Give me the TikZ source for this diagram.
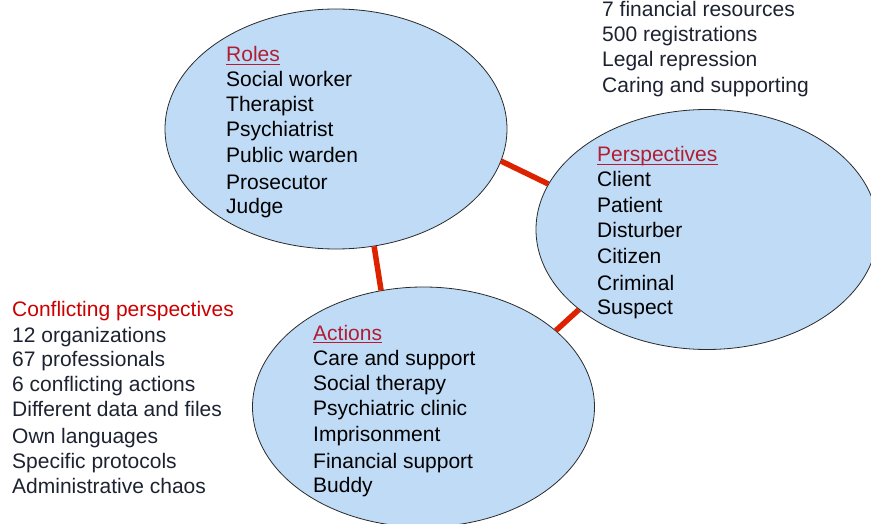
\documentclass[tikz,border=0pt]{standalone}
\usepackage{fontspec}
\setmainfont{Liberation Sans}
\usetikzlibrary{shapes.geometric}
\definecolor{ellfill}{HTML}{BFDBF6}
\definecolor{ellline}{HTML}{2A2A2A}
\definecolor{conncol}{HTML}{DD2200}
\definecolor{headcol}{HTML}{B01E34}
\definecolor{redtxt}{HTML}{CC0000}
\definecolor{navytxt}{HTML}{1C2230}
\tikzset{
  bubble/.style={ellipse, draw=ellline, line width=0.8pt, fill=ellfill,
    minimum width=342pt, minimum height=240pt, inner sep=0pt},
  conn/.style={draw=conncol, line width=5.5pt},
  item/.style={anchor=base west, inner sep=0pt, font=\fontsize{21}{25}\selectfont, text=black},
  outer/.style={item, text=navytxt},
  head/.style={item, text=headcol},
  uline/.style={draw=headcol, line width=1.5pt}
}
\begin{document}
\begin{tikzpicture}[x=1pt,y=-1pt]
\useasboundingbox (0,0) rectangle (871,524);
\clip (0,0) rectangle (871,524);
% ellipses
\node[bubble] (roles) at (336,129) {};
\node[bubble] (persp) at (707,229.5) {};
\node[bubble] (actions) at (423.5,407) {};
% connectors
\draw[conn] (roles.-11) -- (persp.164);
\draw[conn] (roles.-72) -- (actions.110);
\draw[conn] (persp.212) -- (actions.30);
% roles
\node[head] (rolesh) at (226,62) {Roles};
\draw[uline] ([yshift=-2.5pt]rolesh.base west) -- ([yshift=-2.5pt]rolesh.base east);
\foreach \t/\d [count=\i] in {Social worker/25, Therapist/50, Psychiatrist/75, Public warden/101, Prosecutor/128, Judge/152}
  \node[item] (r\i) at (226,62+\d) {\t};
% perspectives
\node[head] (persph) at (597,162) {Perspectives};
\draw[uline] ([yshift=-2.5pt]persph.base west) -- ([yshift=-2.5pt]persph.base east);
\foreach \t/\d [count=\i] in {Client/25, Patient/50, Disturber/75, Citizen/101, Criminal/128, Suspect/152}
  \node[item] (p\i) at (597,162+\d) {\t};
% actions
\node[head] (actionsh) at (313,340) {Actions};
\draw[uline] ([yshift=-2.5pt]actionsh.base west) -- ([yshift=-2.5pt]actionsh.base east);
\foreach \t/\d [count=\i] in {Care and support/25, Social therapy/50, Psychiatric clinic/75, Imprisonment/101, Financial support/128, Buddy/152}
  \node[item] (a\i) at (313,340+\d) {\t};
% top right
\foreach \t/\d [count=\i] in {7 financial resources/17, 500 registrations/42, Legal repression/67, Caring and supporting/93}
  \node[outer] (t\i) at (602,\d) {\t};
% left
\node[item, text=redtxt] (confh) at (12,316) {Conflicting perspectives};
\foreach \t/\d [count=\i] in {12 organizations/342, 67 professionals/366, 6 conflicting actions/391, Different data and files/416, Own languages/443, Specific protocols/468, Administrative chaos/493}
  \node[outer] (c\i) at (12,\d) {\t};
\end{tikzpicture}
\end{document}
